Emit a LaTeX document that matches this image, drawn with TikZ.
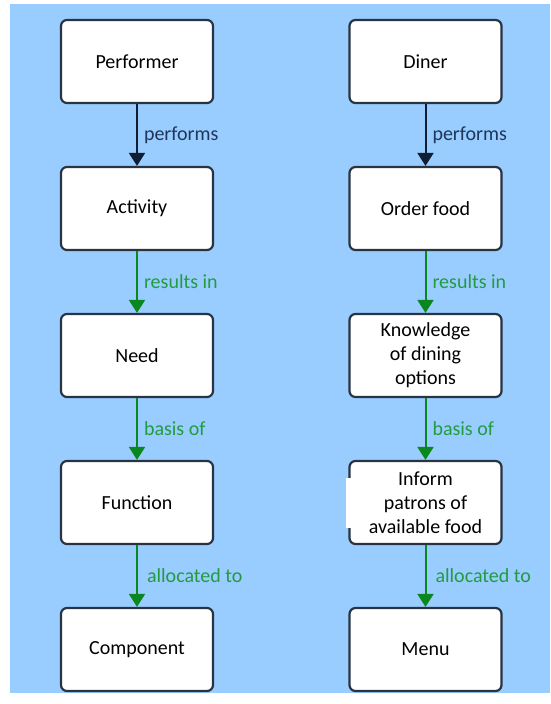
\documentclass[tikz,border=0pt]{standalone}
\usepackage{fontspec}
\setmainfont{Carlito}
\usetikzlibrary{arrows.meta}
\definecolor{bgblue}{RGB}{153,204,255}
\definecolor{boxline}{RGB}{40,52,66}
\definecolor{navy}{RGB}{15,30,50}
\definecolor{navytext}{RGB}{30,55,90}
\definecolor{flowgreen}{RGB}{10,135,30}
\definecolor{lblgreen}{RGB}{35,155,65}
\tikzset{
  box/.style={draw=boxline, line width=2.2pt, fill=white, rounded corners=6pt,
    minimum width=152pt, minimum height=83pt, inner sep=2pt,
    align=center, font=\fontsize{20}{24}\selectfont, text=black},
  link/.style={line width=2pt, -{Triangle[length=13pt,width=16pt]}},
  perf/.style={link, draw=navy, fill=navy},
  flow/.style={link, draw=flowgreen, fill=flowgreen},
  lbl/.style={anchor=west, xshift=6pt, inner sep=0pt, font=\fontsize{20}{24}\selectfont},
}
\begin{document}
\begin{tikzpicture}[x=1pt, y=-1pt]
  % canvas and backdrop
  \fill[white] (0,0) rectangle (550,704);
  \useasboundingbox (0,0) rectangle (550,704);
  \fill[bgblue] (10,4) rectangle (550,693);

  % generic chain
  \node[box] (performer) at (137,61.5) {Performer};
  \node[box] (activity)  at (137,208.5) {Activity};
  \node[box] (need)      at (137,355.5) {Need};
  \node[box] (function)  at (137,502.5) {Function};
  \node[box] (component) at (137,649.5) {Component};

  % restaurant chain
  \node[box] (diner)   at (425.5,61.5) {Diner};
  \node[box] (order)   at (425.5,208.5) {Order food};
  \node[box] (knowl)   at (425.5,355.5) {Knowledge\\of dining\\options};
  \node[box] (inform)  at (425.5,502.5) {};
  \node[box] (menu)    at (425.5,649.5) {Menu};

  % white patch over the left edge of the inform box
  \fill[white] (346,478) rectangle (362,528);
  \node[align=center, font=\fontsize{20}{24}\selectfont] (informtext) at (inform.center) {Inform\\patrons of\\available food};

  % connectors
  \draw[perf] (performer.south) -- (activity.north) node[lbl, midway, text=navytext] {performs};
  \draw[flow] (activity.south) -- (need.north) node[lbl, midway, text=lblgreen] {results in};
  \draw[flow] (need.south) -- (function.north) node[lbl, midway, text=lblgreen] {basis of};
  \draw[flow] (function.south) -- (component.north) node[lbl, midway, xshift=3pt, text=lblgreen] {allocated to};

  \draw[perf] (diner.south) -- (order.north) node[lbl, midway, text=navytext] {performs};
  \draw[flow] (order.south) -- (knowl.north) node[lbl, midway, text=lblgreen] {results in};
  \draw[flow] (knowl.south) -- (inform.north) node[lbl, midway, text=lblgreen] {basis of};
  \draw[flow] (inform.south) -- (menu.north) node[lbl, midway, xshift=3pt, text=lblgreen] {allocated to};
\end{tikzpicture}
\end{document}
